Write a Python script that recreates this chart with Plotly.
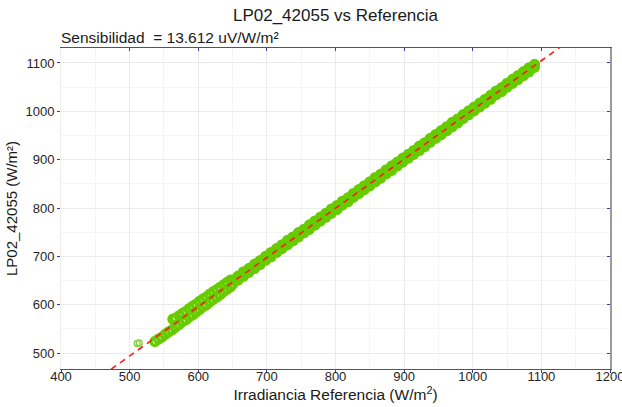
import plotly.graph_objects as go

# Lower strand at the low-irradiance end
low_x = [537, 542, 547, 552, 557, 562, 567, 572, 577, 582, 587, 592, 597, 602, 607, 612, 617, 622, 627, 632, 637, 642, 647]
low_y = [524, 529, 533, 539, 544, 548, 554, 559, 565, 569, 575, 579, 585, 590, 596, 600, 606, 611, 616, 621, 627, 632, 637]

# Upper strand at the low-irradiance end
up_x = [563, 567, 572, 577, 582, 587, 592, 597, 602, 607, 612, 617, 622, 627, 632, 637, 642, 647]
up_y = [570, 572, 577, 582, 586, 592, 597, 601, 607, 612, 616, 622, 627, 631, 636, 641, 646, 651]

# Main band (upper and lower edges)
band_x = [650, 658, 666, 674, 682, 690, 698, 706, 714, 722, 730, 738, 746, 754, 762, 770, 778, 786, 794, 802,
          810, 818, 826, 834, 842, 850, 858, 866, 874, 882, 890, 898, 906, 914, 922, 930, 938, 946, 954, 962,
          970, 978, 986, 994, 1002, 1010, 1018, 1026, 1034, 1042, 1050, 1058, 1066, 1074, 1082, 1090]
band_y_hi = [651, 659, 668, 675, 684, 691, 700, 708, 716, 724, 733, 740, 749, 756, 765, 773, 781, 789, 798, 805,
             814, 821, 830, 838, 846, 854, 863, 870, 879, 887, 895, 903, 911, 919, 928, 935, 944, 952, 960, 968,
             977, 984, 993, 1001, 1009, 1017, 1025, 1033, 1042, 1049, 1058, 1066, 1074, 1082, 1090, 1097]
band_y_lo = [642, 651, 659, 667, 675, 683, 692, 699, 708, 716, 724, 732, 740, 749, 756, 765, 773, 781, 789, 797,
             806, 813, 822, 830, 838, 846, 854, 862, 871, 878, 887, 895, 903, 911, 919, 927, 936, 944, 952, 960,
             968, 976, 985, 993, 1001, 1009, 1017, 1025, 1034, 1041, 1050, 1058, 1066, 1074, 1082, 1091]

# Main band (centre)
mid_x = [654, 662, 670, 678, 686, 694, 702, 710, 718, 726, 734, 742, 750, 758, 766, 774, 782, 790, 798, 806,
         814, 822, 830, 838, 846, 854, 862, 870, 878, 886, 894, 902, 910, 918, 926, 934, 942, 950, 958, 966,
         974, 982, 990, 998, 1006, 1014, 1022, 1030, 1038, 1046, 1054, 1062, 1070, 1078, 1086]
mid_y = [651, 659, 667, 675, 684, 692, 700, 708, 716, 724, 732, 740, 748, 757, 765, 773, 781, 789, 797, 806,
         814, 822, 830, 838, 846, 854, 862, 871, 879, 887, 895, 903, 911, 920, 928, 936, 944, 952, 960, 968,
         976, 985, 993, 1001, 1009, 1017, 1025, 1033, 1041, 1050, 1058, 1066, 1074, 1082, 1090]

# Outlier points
out_x = [511, 514]
out_y = [520, 521]

# Regression line endpoints
line_x = [460, 1140]
line_y = [453.3, 1145.5]

x_ticks = [400, 500, 600, 700, 800, 900, 1000, 1100, 1200]
y_ticks = [500, 600, 700, 800, 900, 1000, 1100]

GREEN = "#66cc00"
FONT = "Liberation Sans, Arial, sans-serif"
TICKC = "#3a3aa0"

all_x = low_x + up_x + band_x + band_x + mid_x
all_y = low_y + up_y + band_y_hi + band_y_lo + mid_y

fig = go.Figure()
fig.add_trace(go.Scatter(
    x=all_x, y=all_y, mode="markers",
    marker=dict(symbol="circle-open", size=8, color=GREEN, line=dict(width=3.2, color=GREEN)),
    showlegend=False, hoverinfo="skip"))
fig.add_trace(go.Scatter(
    x=out_x, y=out_y, mode="markers",
    marker=dict(symbol="circle-open", size=6, color="#7fd13b", line=dict(width=1.3, color="#7fd13b")),
    showlegend=False, hoverinfo="skip"))
fig.add_trace(go.Scatter(
    x=line_x, y=line_y, mode="lines",
    line=dict(color="#ff1a1a", width=1.6, dash="6px,5px"),
    showlegend=False, hoverinfo="skip"))

fig.update_layout(
    width=622, height=407,
    margin=dict(l=61, r=12, t=48, b=38),
    paper_bgcolor="white", plot_bgcolor="white",
    font=dict(family=FONT, color="#1a1a1a"),
    title=dict(text="LP02_42055 vs Referencia", xref="paper", x=0.5, xanchor="center", y=0.962, yanchor="middle",
               font=dict(size=17, color="#1a1a1a")),
    annotations=[dict(text="Sensibilidad  = 13.612 uV/W/m²", xref="paper", yref="paper",
                      x=0, y=1.0, xanchor="left", yanchor="bottom", yshift=0, xshift=-2, showarrow=False,
                      font=dict(size=15.5, color="#1a1a1a"))],
    xaxis=dict(range=[400, 1200], tickvals=x_ticks, ticks="outside", ticklen=3, tickcolor=TICKC,
               tickfont=dict(size=13, color="#262626"), ticklabeloverflow="allow", automargin=False,
               ticklabelstandoff=-8,
               showgrid=True, gridcolor="#ebebeb", gridwidth=1,
               minor=dict(dtick=50, showgrid=True, gridcolor="#f4f4f4", gridwidth=1),
               showline=True, linecolor="#555555", linewidth=1.3, zeroline=False,
               title=dict(text="Irradiancia Referencia (W/m<sup>2</sup>)", font=dict(size=15.5, color="#1a1a1a"),
                          standoff=5)),
    yaxis=dict(range=[467, 1131], tickvals=y_ticks, ticks="outside", ticklen=3, tickcolor=TICKC,
               tickfont=dict(size=13, color="#262626"), automargin=False,
               showgrid=True, gridcolor="#ebebeb", gridwidth=1,
               minor=dict(dtick=50, showgrid=True, gridcolor="#f4f4f4", gridwidth=1),
               showline=True, linecolor="#eeeeee", linewidth=1, zeroline=False,
               title=dict(text="LP02_42055 (W/m²)", font=dict(size=15, color="#1a1a1a"), standoff=4)),
    xaxis2=dict(overlaying="x", side="top", range=[400, 1200], tickvals=x_ticks, ticks="inside",
                ticklen=3, tickcolor=TICKC, showticklabels=False, showgrid=False,
                showline=True, linecolor="#555555", linewidth=1.3, zeroline=False),
    yaxis2=dict(overlaying="y", side="right", range=[467, 1131], tickvals=y_ticks, ticks="inside",
                ticklen=3, tickcolor=TICKC, showticklabels=False, showgrid=False,
                showline=True, linecolor="#9a9a9a", linewidth=2, zeroline=False),
)
# invisible trace to activate the mirrored axes
fig.add_trace(go.Scatter(x=[None], y=[None], xaxis="x2", yaxis="y2", showlegend=False, hoverinfo="skip"))

fig.write_html("out.html")
